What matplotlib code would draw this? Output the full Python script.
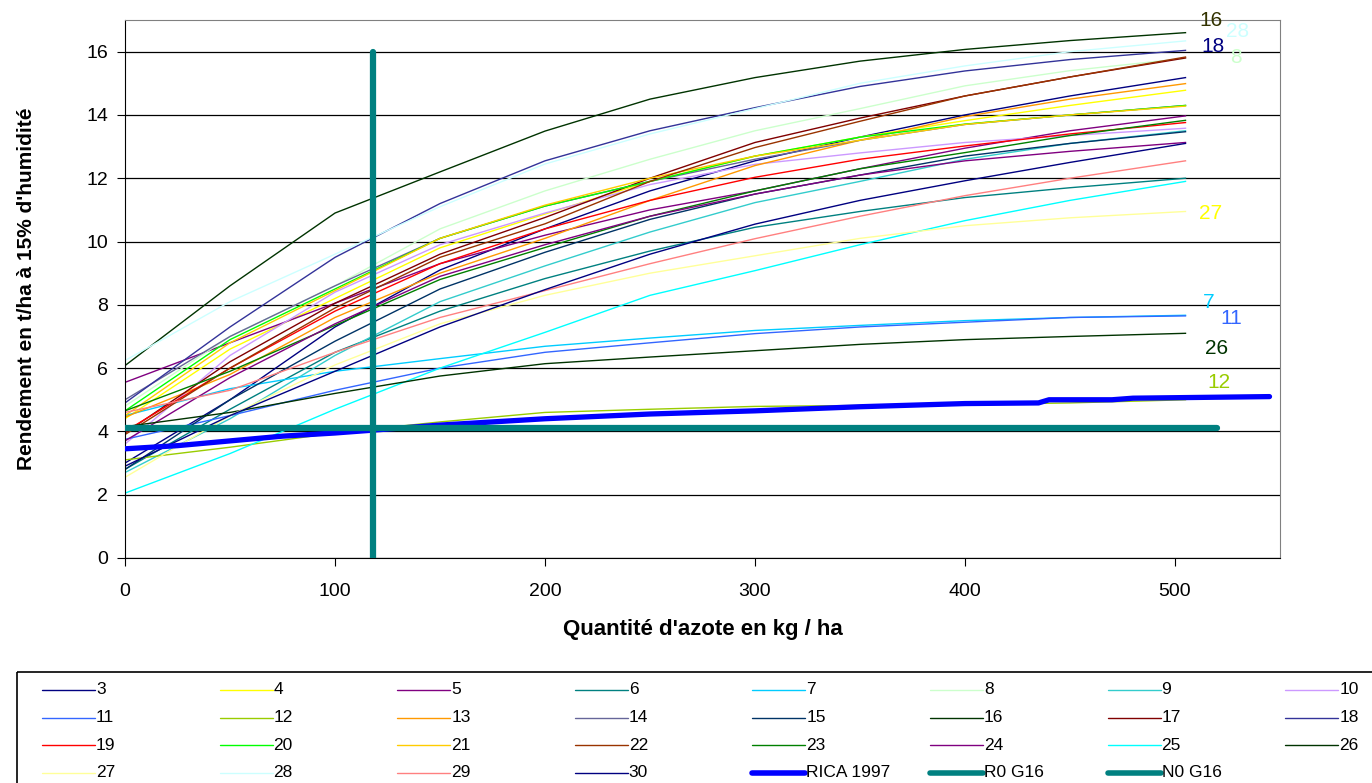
import matplotlib
matplotlib.use('Agg')
import matplotlib.pyplot as plt
from matplotlib.patches import Rectangle

plt.rcParams['font.family'] = ['Liberation Sans', 'DejaVu Sans']

# ── données ─────────────────────────────────────────
azote = [0, 50, 100, 150, 200, 250, 300, 350, 400, 450, 505]

noms = [str(i) for i in range(3, 31)]
couleurs = ['#000080', '#FFFF00', '#800080', '#008080', '#00CCFF', '#CCFFCC', '#33CCCC',
            '#CC99FF', '#3366FF', '#99CC00', '#FF9900', '#666699', '#003366', '#003300',
            '#800000', '#333399', '#FF0000', '#00FF00', '#FFCC00', '#993300', '#008000',
            '#800080', '#00FFFF', '#003300', '#FFFF99', '#CCFFFF', '#FF8080', '#000080']

c3 = [3.0, 5.0, 7.3, 9.1, 10.4, 11.6, 12.55, 13.3, 14.0, 14.6, 15.18]
c4 = [4.4, 6.6, 8.2, 9.8, 10.87, 11.9, 12.7, 13.3, 13.82, 14.3, 14.78]
c5 = [5.55, 6.8, 8.05, 9.3, 10.2, 11.0, 11.6, 12.3, 12.95, 13.5, 13.97]
c6 = [2.8, 4.7, 6.5, 7.8, 8.83, 9.7, 10.45, 10.95, 11.39, 11.7, 12.0]
c7 = [4.5, 5.35, 5.9, 6.3, 6.69, 6.95, 7.19, 7.35, 7.5, 7.6, 7.67]
c8 = [4.8, 7.0, 8.6, 10.4, 11.6, 12.6, 13.5, 14.2, 14.92, 15.4, 15.79]
c9 = [2.7, 4.4, 6.4, 8.1, 9.23, 10.3, 11.23, 11.9, 12.6, 13.1, 13.5]
c10 = [3.6, 6.4, 8.4, 9.9, 10.9, 11.8, 12.44, 12.8, 13.13, 13.35, 13.58]
c11 = [3.75, 4.5, 5.3, 6.0, 6.5, 6.8, 7.09, 7.3, 7.45, 7.6, 7.65]
c12 = [3.1, 3.5, 3.95, 4.3, 4.6, 4.7, 4.79, 4.82, 4.85, 4.9, 5.0]
c13 = [4.45, 5.8, 7.6, 9.0, 10.1, 11.3, 12.4, 13.2, 13.95, 14.5, 14.99]
c14 = [5.0, 7.0, 8.6, 10.1, 11.12, 11.9, 12.6, 13.2, 13.7, 14.0, 14.3]
c15 = [2.8, 5.0, 6.85, 8.5, 9.66, 10.7, 11.5, 12.1, 12.7, 13.1, 13.47]
c16 = [6.08, 8.6, 10.9, 12.2, 13.49, 14.5, 15.18, 15.7, 16.07, 16.35, 16.6]
c17 = [3.95, 6.2, 8.05, 9.6, 10.76, 12.0, 13.13, 13.9, 14.6, 15.2, 15.8]
c18 = [4.9, 7.3, 9.5, 11.2, 12.55, 13.5, 14.23, 14.9, 15.39, 15.75, 16.04]
c19 = [4.0, 6.0, 7.8, 9.3, 10.4, 11.3, 12.03, 12.6, 13.02, 13.4, 13.76]
c20 = [4.65, 6.9, 8.5, 10.1, 11.12, 11.9, 12.7, 13.3, 13.71, 14.0, 14.3]
c21 = [4.5, 6.8, 8.45, 10.1, 11.15, 12.0, 12.7, 13.2, 13.7, 14.0, 14.28]
c22 = [3.9, 6.0, 7.9, 9.5, 10.56, 11.9, 12.97, 13.8, 14.6, 15.2, 15.83]
c23 = [4.65, 5.9, 7.35, 8.8, 9.81, 10.8, 11.6, 12.3, 12.81, 13.35, 13.83]
c24 = [3.7, 5.7, 7.4, 8.9, 9.9, 10.8, 11.5, 12.1, 12.55, 12.85, 13.13]
c25 = [2.05, 3.3, 4.7, 6.0, 7.13, 8.3, 9.08, 9.9, 10.66, 11.3, 11.9]
c26 = [4.15, 4.6, 5.2, 5.75, 6.14, 6.35, 6.55, 6.75, 6.9, 7.0, 7.1]
c27 = [2.55, 4.5, 6.1, 7.4, 8.3, 9.0, 9.55, 10.1, 10.5, 10.75, 10.95]
c28 = [6.24, 8.1, 9.6, 11.1, 12.45, 13.4, 14.2, 15.0, 15.55, 16.0, 16.34]
c29 = [4.6, 5.3, 6.5, 7.6, 8.45, 9.3, 10.09, 10.8, 11.45, 12.0, 12.55]
c30 = [2.9, 4.5, 5.9, 7.3, 8.48, 9.6, 10.55, 11.3, 11.92, 12.5, 13.1]
courbes = [c3, c4, c5, c6, c7, c8, c9, c10, c11, c12, c13, c14, c15, c16,
           c17, c18, c19, c20, c21, c22, c23, c24, c25, c26, c27, c28, c29, c30]

rica_x = [0, 25, 50, 75, 100, 150, 200, 250, 300, 350, 400, 435, 440, 470, 480, 545]
rica_y = [3.45, 3.55, 3.7, 3.85, 3.95, 4.2, 4.4, 4.55, 4.65, 4.78, 4.88, 4.9, 5.0, 5.0, 5.05, 5.1]
r0_x, r0_y = [0, 520], [4.1, 4.1]
n0_x, n0_y = [118, 118], [0, 16]

# étiquettes à droite
etiq_txt = ['16', '28', '18', '8', '27', '7', '11', '26', '12']
etiq_x = [517, 530, 518, 529, 517, 516, 527, 520, 521]
etiq_y = [16.97, 16.65, 16.15, 15.83, 10.88, 8.07, 7.56, 6.62, 5.55]
etiq_col = ['#333300', '#CCFFFF', '#000080', '#CCFFCC', '#FFFF00', '#00CCFF', '#3366FF', '#003300', '#99CC00']

W, H = 1372, 783
fig = plt.figure(figsize=(W / 100, H / 100), dpi=100)
ax = fig.add_axes([125 / W, 1 - 558 / H, (1280 - 125) / W, (558 - 20) / H])

for nom, col, ys in zip(noms, couleurs, courbes):
    ax.plot(azote, ys, color=col, lw=1.0, zorder=2)
ax.plot(rica_x, rica_y, color='#0000FF', lw=3.8, solid_capstyle='round', zorder=3)
ax.plot(r0_x, r0_y, color='#008080', lw=4.5, solid_capstyle='round', zorder=4)
ax.plot(n0_x, n0_y, color='#008080', lw=4.5, solid_capstyle='round', zorder=4)

for t, x, y, c in zip(etiq_txt, etiq_x, etiq_y, etiq_col):
    ax.text(x, y, t, color=c, fontsize=15, ha='center', va='center', clip_on=False)

ax.set_xlim(0, 550)
ax.set_ylim(0, 17)
ax.set_xticks([0, 100, 200, 300, 400, 500])
ax.set_yticks(range(0, 17, 2))
ax.tick_params(labelsize=14, length=6, direction='out')
ax.tick_params(axis='x', pad=12)
ax.tick_params(axis='y', pad=6)
ax.yaxis.grid(True, color='black', lw=0.9, zorder=1)
ax.set_axisbelow(True)
for s in ('top', 'right'):
    ax.spines[s].set_color('#808080')
ax.set_xlabel("Quantité d'azote en kg / ha", fontsize=16, fontweight='bold', labelpad=14)
ax.set_ylabel("Rendement en t/ha à 15% d'humidité", fontsize=15, fontweight='bold', labelpad=36)

# ── légende (cadre coupé en bas et à droite comme l'original) ──
lax = fig.add_axes([0, 0, 1, 1], zorder=5)
lax.set_xlim(0, W)
lax.set_ylim(H, 0)
lax.axis('off')
lax.add_patch(Rectangle((17, 672), 1400, 200, fill=False, edgecolor='black', lw=1.2))

leg_noms = noms + ['RICA 1997', 'R0 G16', 'N0 G16']
leg_cols = couleurs + ['#0000FF', '#008080', '#008080']
leg_lw = [1.0] * len(noms) + [4.0, 4.0, 4.0]
for i, (nm, col, lw) in enumerate(zip(leg_noms, leg_cols, leg_lw)):
    r, c = divmod(i, 8)
    x0 = 42 + 177.6 * c
    y0 = 690 + 27.5 * r
    lax.plot([x0, x0 + 53], [y0, y0], color=col, lw=lw, solid_capstyle='round')
    lax.text(x0 + 54, y0, nm, fontsize=12.5, ha='left', va='center')

fig.savefig('out.png', dpi=100)
